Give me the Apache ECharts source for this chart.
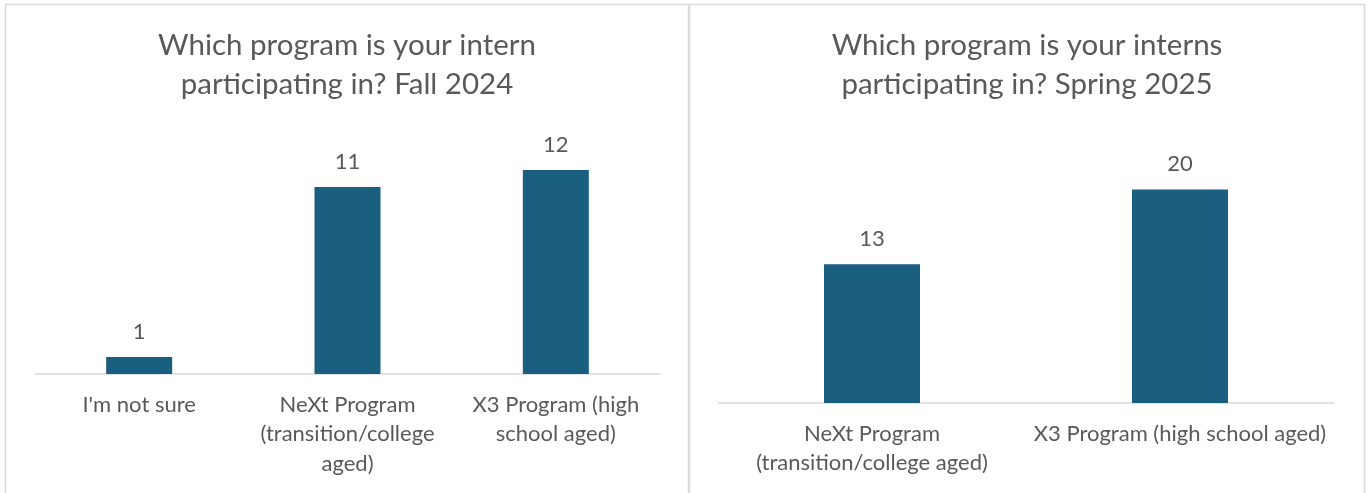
<!DOCTYPE html>
<html>
<head>
<meta charset="utf-8">
<script src="https://cdn.jsdelivr.net/npm/echarts@6/dist/echarts.min.js"></script>
<style>
  html, body { margin: 0; padding: 0; background: #ffffff; }
  #chart { width: 1369px; height: 493px; }
</style>
</head>
<body>
<div id="chart"></div>
<script>
// Fall 2024 survey responses
const fallCategories = ["I'm not sure", "NeXt Program\n(transition/college\naged)", "X3 Program (high\nschool aged)"];
const fallValues = [1, 11, 12];

// Spring 2025 survey responses
const springCategories = ["NeXt Program\n(transition/college aged)", "X3 Program (high school aged)"];
const springValues = [13, 20];

const fallTitle = "Which program is your intern\nparticipating in? Fall 2024";
const springTitle = "Which program is your interns\nparticipating in? Spring 2025";

const FONT = "Lato";
const GREY = "#595959";
const BAR = "#1a5f80";
const LINE = "#d9d9d9";

const chart = echarts.init(document.getElementById('chart'), null, { renderer: 'canvas' });

function xAxisFor(idx, cats) {
  return {
    type: 'category',
    gridIndex: idx,
    data: cats,
    axisLine: { show: true, lineStyle: { color: LINE, width: 1.5 } },
    axisTick: { show: false },
    axisLabel: {
      color: GREY, fontFamily: FONT, fontSize: 22, lineHeight: 29.5,
      margin: 16, interval: 0
    }
  };
}
function yAxisFor(idx, max) {
  return {
    type: 'value', gridIndex: idx, min: 0, max: max,
    show: false, splitLine: { show: false }
  };
}
function barSeries(idx, values, width) {
  return {
    type: 'bar', xAxisIndex: idx, yAxisIndex: idx,
    data: values, barWidth: width,
    itemStyle: { color: BAR },
    label: {
      show: true, position: 'top', distance: 14,
      color: GREY, fontFamily: FONT, fontSize: 22
    }
  };
}

chart.setOption({
  animation: false,
  backgroundColor: '#ffffff',
  graphic: [
    { type: 'rect', shape: { x: 5.5, y: 4.5, width: 683, height: 500 },
      style: { fill: '#ffffff', stroke: LINE, lineWidth: 1.5 }, z: -10 },
    { type: 'rect', shape: { x: 689.5, y: 4.5, width: 675, height: 500 },
      style: { fill: '#ffffff', stroke: LINE, lineWidth: 1.5 }, z: -10 }
  ],
  title: [
    { text: fallTitle, left: 347, top: 26, textAlign: 'center', padding: 0,
      textStyle: { color: GREY, fontFamily: FONT, fontSize: 29.5, fontWeight: 'normal', lineHeight: 39 } },
    { text: springTitle, left: 1027, top: 26, textAlign: 'center', padding: 0,
      textStyle: { color: GREY, fontFamily: FONT, fontSize: 29.5, fontWeight: 'normal', lineHeight: 39 } }
  ],
  grid: [
    { left: 35, width: 625, top: 136, bottom: 119 },
    { left: 718, width: 616, top: 136, bottom: 90 }
  ],
  xAxis: [xAxisFor(0, fallCategories), xAxisFor(1, springCategories)],
  yAxis: [yAxisFor(0, 14), yAxisFor(1, 25)],
  series: [barSeries(0, fallValues, 66), barSeries(1, springValues, 96)]
});
</script>
</body>
</html>
